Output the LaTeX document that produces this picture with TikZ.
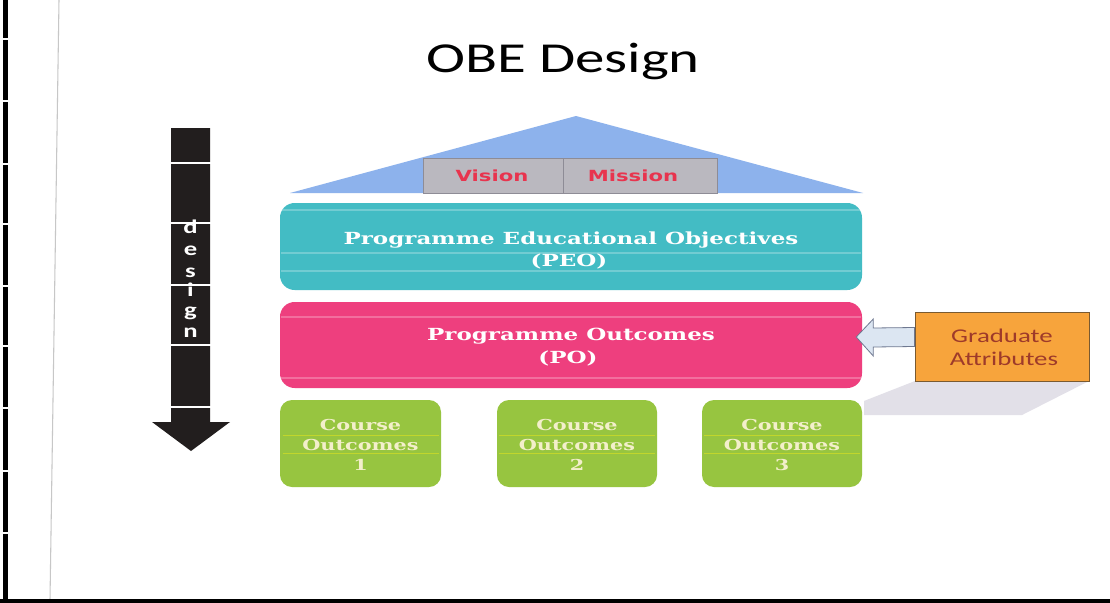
\documentclass[tikz,border=0pt]{standalone}
\usepackage{graphicx}
\usepackage{fontspec}
\setmainfont{Carlito}
\newfontfamily\dvserif{DejaVu Serif}
\newfontfamily\dvsans{DejaVu Sans}
\usetikzlibrary{calc,fit}
\definecolor{roofblue}{HTML}{8DB2EC}
\definecolor{vmgray}{HTML}{BAB8BF}
\definecolor{vmedge}{HTML}{8E8C96}
\definecolor{vmred}{HTML}{E8344E}
\definecolor{peoteal}{HTML}{43BCC4}
\definecolor{popink}{HTML}{EE3F7E}
\definecolor{cogreen}{HTML}{97C540}
\definecolor{cotext}{HTML}{F3EFCB}
\definecolor{gaorange}{HTML}{F7A43C}
\definecolor{gaedge}{HTML}{7A5A30}
\definecolor{gatext}{HTML}{9E3A2A}
\definecolor{arrowfill}{HTML}{DCE6F2}
\definecolor{arrowedge}{HTML}{6E7890}
\definecolor{shadowgray}{HTML}{E2E0E8}
\definecolor{darkarrow}{HTML}{221E1E}
\newcommand\sx[1]{\scalebox{1.38}[1]{#1}}
\tikzset{
  layerbox/.style={rounded corners=11pt, inner sep=0pt, draw=none},
  cobox/.style={layerbox, fill=cogreen, rounded corners=9pt},
  vmbox/.style={inner sep=0pt, fill=vmgray, draw=vmedge, line width=0.6pt},
  boxtext/.style={anchor=base, text=white, font=\dvserif\bfseries\fontsize{12.5}{15}\selectfont},
  cotxt/.style={anchor=base, text=cotext, font=\dvserif\bfseries\fontsize{11.3}{14}\selectfont},
  vmtxt/.style={anchor=base, text=vmred, font=\dvsans\bfseries\fontsize{11.5}{14}\selectfont},
  gatxt/.style={anchor=base, text=gatext, font=\fontsize{14.6}{17}\selectfont},
  designletter/.style={anchor=base, text=white, font=\bfseries\fontsize{14.5}{16}\selectfont},
  scanline/.style={white, opacity=0.25, line width=0.8pt},
}
\begin{document}
\begin{tikzpicture}[x=0.75pt,y=-0.75pt]
\useasboundingbox (0,0) rectangle (1110,603);
\fill[white] (0,0) rectangle (1110,603);
% scan edges
\draw[black!22, line width=0.8pt] (59,0) -- (50,600);
\fill[black] (3,0) rectangle (8,600);
\foreach \yy in {38,100,163,223,285,345,407,470,532} {\fill[white] (2,\yy) rectangle (9,\yy+2);}
\fill[black] (0,599) rectangle (1110,603);

% title
\node[anchor=base] (title) at (563,72) {\fontsize{32}{38}\selectfont\sx{OBE Design}};

% roof
\coordinate (roofL) at (290,193);
\coordinate (roofT) at (576,116);
\coordinate (roofR) at (863,193);
\fill[roofblue] (roofL) -- (roofT) -- (roofR) -- cycle;
\node[vmbox, fit={(423,158) (563,193)}] (vision) {};
\node[vmbox, fit={(563,158) (717,193)}] (mission) {};
\node[vmtxt] (visiont) at (492,181) {\sx{Vision}};
\node[vmtxt] (missiont) at (633,181) {\sx{Mission}};

% PEO
\node[layerbox, fill=peoteal, fit={(280,203) (862,290)}] (peo) {};
\draw[scanline] (282,210) -- (860,210);
\draw[scanline] (281,253) -- (861,253);
\draw[scanline] (281,271) -- (861,271);
\node[boxtext] (peot1) at (571,244) {\sx{Programme Educational Objectives}};
\node[boxtext] (peot2) at (569,266) {\sx{(PEO)}};

% PO
\node[layerbox, fill=popink, fit={(280,302) (862,388)}] (po) {};
\draw[scanline] (281,317) -- (861,317);
\draw[scanline] (281,378) -- (861,378);
\node[boxtext] (pot1) at (571,340) {\sx{Programme Outcomes}};
\node[boxtext] (pot2) at (568,363) {\sx{(PO)}};

% shadow under GA
\fill[shadowgray] (915,381) -- (1089,381) -- (1022,415) -- (864,415) -- (864,401) -- cycle;

% course outcomes
\node[cobox, fit={(280,400) (441,487)}] (co1) {};
\node[cobox, fit={(497,400) (657,487)}] (co2) {};
\node[cobox, fit={(702,400) (862,487)}] (co3) {};
\foreach \n/\cx in {1/360.5,2/577,3/782} {
  \draw[yellow!80!cogreen, opacity=0.5, line width=0.7pt] (\cx-78,435) -- (\cx+78,435);
  \draw[yellow!80!cogreen, opacity=0.5, line width=0.7pt] (\cx-78,453) -- (\cx+78,453);
  \node[cotxt] (co\n a) at (\cx,430) {\sx{Course}};
  \node[cotxt] (co\n b) at (\cx,450) {\sx{Outcomes}};
  \node[cotxt] (co\n c) at (\cx,470) {\sx{\n}};
}

% graduate attributes
\node[inner sep=0pt, fill=gaorange, draw=gaedge, line width=0.6pt, fit={(915,312) (1089,381)}] (ga) {};
\node[gatxt] (gat1) at (1002,342) {\sx{Graduate}};
\node[gatxt] (gat2) at (1004,365) {\sx{Attributes}};

% block arrow from GA to PO
\coordinate (tip) at ($(po.east)+(-6,-8)$);
\coordinate (tail) at ($(ga.west)+(0,-9.5)$);
\fill[arrowfill, draw=arrowedge, line width=0.6pt]
  (tip) -- ($(tip)+(17,-18)$) -- ($(tip)+(17,-9)$) -- ($(tail)+(0,-9.5)$)
  -- ($(tail)+(0,9.5)$) -- ($(tip)+(17,10)$) -- ($(tip)+(17,19)$) -- cycle;

% design arrow
\fill[darkarrow] (171,128) -- (210,128) -- (210,422) -- (230,422) -- (191,451) -- (152,422) -- (171,422) -- cycle;
\foreach \yy in {163,223,285,345,407} {\draw[white, line width=1pt] (170,\yy) -- (211,\yy);}
\foreach \l/\yy in {d/233,e/255,s/277,i/296,g/316,n/337} {
  \node[designletter] (des\l) at (190.5,\yy) {\sx{\l}};
}
\end{tikzpicture}
\end{document}
